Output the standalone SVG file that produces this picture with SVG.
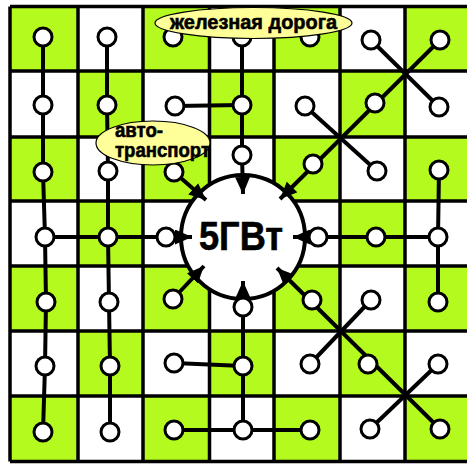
<svg xmlns="http://www.w3.org/2000/svg" width="467" height="464" viewBox="0 0 467 464">
<style>
.g{fill:#b4fa1e}
.grid{fill:none;stroke:#000;stroke-width:3.5}
.c{fill:none;stroke:#000;stroke-width:4;stroke-linejoin:round}
.a{marker-end:url(#ah)}
.n{fill:#fff;stroke:#000;stroke-width:3}
.lbl{fill:#ffff99;stroke:#000;stroke-width:1.2}
.t{font-family:"Liberation Sans",Arial,sans-serif;font-weight:bold;fill:#000;stroke:#000;stroke-width:0.6}
</style>
<defs>
<marker id="ah" markerUnits="userSpaceOnUse" markerWidth="18" markerHeight="15" refX="17" refY="7.5" orient="auto">
<path d="M0,0 L17,7.5 L0,15 z" fill="#000"/>
</marker>
</defs>
<rect x="0" y="0" width="467" height="464" fill="#fff"/>
<g id="cells">
<rect class="g" x="10" y="6.5" width="68" height="64.5"/>
<rect class="g" x="143" y="6.5" width="66.5" height="64.5"/>
<rect class="g" x="274" y="6.5" width="66" height="64.5"/>
<rect class="g" x="405" y="6.5" width="62" height="64.5"/>
<rect class="g" x="78" y="71" width="65" height="66"/>
<rect class="g" x="209.5" y="71" width="64.5" height="66"/>
<rect class="g" x="340" y="71" width="65" height="66"/>
<rect class="g" x="10" y="137" width="68" height="64"/>
<rect class="g" x="143" y="137" width="66.5" height="64"/>
<rect class="g" x="274" y="137" width="66" height="64"/>
<rect class="g" x="405" y="137" width="62" height="64"/>
<rect class="g" x="78" y="201" width="65" height="65"/>
<rect class="g" x="209.5" y="201" width="64.5" height="65"/>
<rect class="g" x="340" y="201" width="65" height="65"/>
<rect class="g" x="10" y="266" width="68" height="65"/>
<rect class="g" x="143" y="266" width="66.5" height="65"/>
<rect class="g" x="274" y="266" width="66" height="65"/>
<rect class="g" x="405" y="266" width="62" height="65"/>
<rect class="g" x="78" y="331" width="65" height="65"/>
<rect class="g" x="209.5" y="331" width="64.5" height="65"/>
<rect class="g" x="340" y="331" width="65" height="65"/>
<rect class="g" x="10" y="396" width="68" height="65.5"/>
<rect class="g" x="143" y="396" width="66.5" height="65.5"/>
<rect class="g" x="274" y="396" width="66" height="65.5"/>
<rect class="g" x="405" y="396" width="62" height="65.5"/>
<path class="grid" d="M10,6.5 V461.5 M78,6.5 V461.5 M143,6.5 V461.5 M209.5,6.5 V461.5 M274,6.5 V461.5 M340,6.5 V461.5 M405,6.5 V461.5 M10,6.5 H467 M10,71 H467 M10,137 H467 M10,201 H467 M10,266 H467 M10,331 H467 M10,396 H467 M10,461.5 H467"/>
</g>
<g id="center">
<circle cx="243" cy="237" r="62" fill="#fff" stroke="#000" stroke-width="4"/>
<text class="t" x="199" y="250" font-size="40" stroke-width="1.2" textLength="84" lengthAdjust="spacingAndGlyphs">5ГВт</text>
</g>
<g id="connectors">
<polyline class="c" points="43,37 43,105 43,172 45,237 46,302 45,366 43,432"/>
<polyline class="c" points="107,37 107,105 108,171 108,237 109,302 110,366 110,432"/>
<polyline class="c a" points="45,237 192,237"/>
<polyline class="c" points="175,106 242,105"/>
<polyline class="c a" points="242,37 242,105 242,155 243,194"/>
<polyline class="c a" points="174,172 206,200"/>
<polyline class="c a" points="440,40 280,199"/>
<polyline class="c" points="371,40 439,107"/>
<polyline class="c" points="305,106 377,171"/>
<polyline class="c" points="439,170 438,237 438,302"/>
<polyline class="c a" points="438,237 293,237"/>
<polyline class="c a" points="173,299 204,266"/>
<polyline class="c a" points="243,430 243,366 243,307 243,281"/>
<polyline class="c" points="174,363 243,366"/>
<polyline class="c" points="174,430 243,430 310,430"/>
<polyline class="c a" points="440,429 277,268"/>
<polyline class="c" points="371,300 310,364"/>
<polyline class="c" points="438,364 370,429"/>
</g>
<g id="nodes">
<g id="r0"><circle class="n" cx="43" cy="37" r="9"/><circle class="n" cx="107" cy="37" r="9"/><circle class="n" cx="173" cy="37" r="9"/><circle class="n" cx="242" cy="37" r="9"/><circle class="n" cx="310" cy="37" r="9"/><circle class="n" cx="371" cy="40" r="9"/><circle class="n" cx="440" cy="40" r="9"/></g>
<g id="r1"><circle class="n" cx="43" cy="105" r="9"/><circle class="n" cx="107" cy="105" r="9"/><circle class="n" cx="175" cy="106" r="9"/><circle class="n" cx="242" cy="105" r="9"/><circle class="n" cx="305" cy="106" r="9"/><circle class="n" cx="375" cy="103" r="9"/><circle class="n" cx="439" cy="107" r="9"/></g>
<g id="r2"><circle class="n" cx="43" cy="172" r="9"/><circle class="n" cx="108" cy="171" r="9"/><circle class="n" cx="174" cy="172" r="9"/><circle class="n" cx="242" cy="155" r="9"/><circle class="n" cx="313" cy="164" r="9"/><circle class="n" cx="377" cy="171" r="9"/><circle class="n" cx="439" cy="170" r="9"/></g>
<g id="r3"><circle class="n" cx="45" cy="237" r="9"/><circle class="n" cx="108" cy="237" r="9"/><circle class="n" cx="166" cy="237" r="9"/><circle class="n" cx="318" cy="237" r="9"/><circle class="n" cx="376" cy="237" r="9"/><circle class="n" cx="438" cy="237" r="9"/></g>
<g id="r4"><circle class="n" cx="46" cy="302" r="9"/><circle class="n" cx="109" cy="302" r="9"/><circle class="n" cx="173" cy="299" r="9"/><circle class="n" cx="243" cy="307" r="9"/><circle class="n" cx="312" cy="300" r="9"/><circle class="n" cx="371" cy="300" r="9"/><circle class="n" cx="438" cy="302" r="9"/></g>
<g id="r5"><circle class="n" cx="45" cy="366" r="9"/><circle class="n" cx="110" cy="366" r="9"/><circle class="n" cx="174" cy="363" r="9"/><circle class="n" cx="243" cy="366" r="9"/><circle class="n" cx="310" cy="364" r="9"/><circle class="n" cx="368" cy="364" r="9"/><circle class="n" cx="438" cy="364" r="9"/></g>
<g id="r6"><circle class="n" cx="43" cy="432" r="9"/><circle class="n" cx="110" cy="432" r="9"/><circle class="n" cx="174" cy="430" r="9"/><circle class="n" cx="243" cy="430" r="9"/><circle class="n" cx="310" cy="430" r="9"/><circle class="n" cx="370" cy="429" r="9"/><circle class="n" cx="440" cy="429" r="9"/></g>
</g>
<g id="label-rail">
<ellipse class="lbl" cx="253.5" cy="23" rx="98.5" ry="15.5"/>
<text class="t" x="170" y="29" font-size="21" textLength="167" lengthAdjust="spacingAndGlyphs">железная дорога</text>
</g>
<g id="label-auto">
<ellipse class="lbl" cx="153" cy="143" rx="57" ry="22"/>
<text class="t" x="115" y="137" font-size="20" textLength="48" lengthAdjust="spacingAndGlyphs">авто-</text>
<text class="t" x="115" y="157" font-size="20" textLength="95" lengthAdjust="spacingAndGlyphs">транспорт</text>
</g>
</svg>
